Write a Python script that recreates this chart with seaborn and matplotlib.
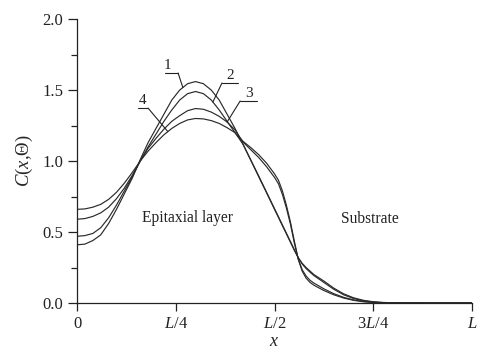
import numpy as np
import pandas as pd
import matplotlib
matplotlib.use('Agg')
import matplotlib.pyplot as plt
import seaborn as sns

# x in units of L
x = [0, .02, .04, .06, .08, .10, .12, .14, .16, .18, .20, .22, .24, .26, .28, .30,
     .32, .34, .36, .38, .40, .42, .44, .46, .48, .50, .51, .52, .53, .54, .55, .56,
     .57, .58, .59, .60, .625, .65, .675, .70, .725, .75, .775, .80, .90, 1.0]

c1 = [0.41, 0.415, 0.44, 0.48, 0.56, 0.66, 0.77, 0.88, 1.01, 1.13, 1.23, 1.33, 1.43,
      1.50, 1.545, 1.56, 1.545, 1.50, 1.43, 1.33, 1.23, 1.12, 1.005, 0.89, 0.776, 0.66,
      0.603, 0.545, 0.488, 0.43, 0.372, 0.32, 0.28, 0.25, 0.225, 0.20, 0.155, 0.105,
      0.065, 0.037, 0.019, 0.009, 0.004, 0.002, 0, 0]
c2 = [0.47, 0.475, 0.49, 0.53, 0.60, 0.69, 0.79, 0.89, 1.00, 1.10, 1.19, 1.28, 1.36,
      1.43, 1.475, 1.49, 1.475, 1.43, 1.36, 1.28, 1.20, 1.12, 1.008, 0.895, 0.78, 0.665,
      0.608, 0.55, 0.493, 0.435, 0.377, 0.32, 0.275, 0.243, 0.217, 0.193, 0.145, 0.097,
      0.058, 0.032, 0.016, 0.007, 0.003, 0.001, 0, 0]
c3 = [0.59, 0.595, 0.61, 0.635, 0.675, 0.735, 0.81, 0.90, 1.00, 1.09, 1.16, 1.225, 1.28,
      1.32, 1.355, 1.37, 1.365, 1.345, 1.315, 1.275, 1.22, 1.135, 1.08, 1.025, 0.96, 0.885,
      0.84, 0.765, 0.67, 0.56, 0.425, 0.31, 0.235, 0.19, 0.16, 0.14, 0.10, 0.066,
      0.04, 0.022, 0.011, 0.005, 0.002, 0, 0, 0]
c4 = [0.66, 0.663, 0.675, 0.695, 0.73, 0.78, 0.845, 0.92, 1.00, 1.07, 1.13, 1.185, 1.23,
      1.265, 1.29, 1.30, 1.297, 1.285, 1.265, 1.235, 1.20, 1.14, 1.095, 1.045, 0.985, 0.91,
      0.865, 0.79, 0.69, 0.575, 0.44, 0.31, 0.225, 0.175, 0.145, 0.125, 0.088, 0.058,
      0.035, 0.019, 0.009, 0.004, 0.001, 0, 0, 0]

curves = {'1': c1, '2': c2, '3': c3, '4': c4}

# label text pos, underline x-range/y, leader end x
labels = {
    '1': dict(tx=0.230, ty=1.67, ux=(0.223, 0.256), uy=1.62, lx=0.268, side='right'),
    '2': dict(tx=0.388, ty=1.605, ux=(0.367, 0.408), uy=1.55, lx=0.344, side='left'),
    '3': dict(tx=0.435, ty=1.475, ux=(0.413, 0.456), uy=1.423, lx=0.380, side='left'),
    '4': dict(tx=0.167, ty=1.425, ux=(0.154, 0.180), uy=1.373, lx=0.230, side='right'),
}

df = pd.concat([pd.DataFrame({'x': x, 'C': v, 'curve': k}) for k, v in curves.items()])

sns.set_theme(style='ticks')
plt.rcParams['font.family'] = ['Liberation Serif', 'DejaVu Serif']
plt.rcParams['mathtext.fontset'] = 'custom'
plt.rcParams['mathtext.it'] = 'Liberation Serif:italic'
plt.rcParams['mathtext.rm'] = 'Liberation Serif'

fig = plt.figure(figsize=(5, 3.54), dpi=100)
ax = fig.add_axes([0.154, 0.144, 0.79, 0.802])

sns.lineplot(data=df, x='x', y='C', hue='curve', palette=['#2a2a2a'] * 4,
             estimator=None, legend=False, lw=0.85, ax=ax)

for k, d in labels.items():
    ax.text(d['tx'], d['ty'], k, ha='center', va='center', fontsize=11, color='#222')
    ly = np.interp(d['lx'], x, curves[k])
    start = d['ux'][1] if d['side'] == 'right' else d['ux'][0]
    ax.plot([d['ux'][0], d['ux'][1]], [d['uy'], d['uy']], color='#222', lw=0.8)
    ax.plot([start, d['lx']], [d['uy'], ly], color='#222', lw=0.8)

ax.text(0.279, 0.60, 'Epitaxial layer', ha='center', va='center', fontsize=11.2, color='#222')
ax.text(0.742, 0.59, 'Substrate', ha='center', va='center', fontsize=11.2, color='#222')

ax.set_xlim(0, 1)
ax.set_ylim(0, 2.0)
ax.set_xticks([0, 0.25, 0.5, 0.75, 1.0])
ax.set_xticklabels(['0', '$L$/4', '$L$/2', '3$L$/4', '$L$'])
ax.set_yticks([0, 0.5, 1.0, 1.5, 2.0])
ax.set_yticklabels(['0.0', '0.5', '1.0', '1.5', '2.0'])
ax.set_yticks([0.25, 0.75, 1.25, 1.75], minor=True)
ax.tick_params(axis='x', direction='out', length=6, width=0.9, pad=3, labelsize=12, colors='#222')
ax.tick_params(axis='y', which='major', direction='out', length=6.5, width=0.9, pad=3.5,
               labelsize=12, colors='#222')
ax.tick_params(axis='y', which='minor', direction='out', length=4, width=0.9, colors='#222')
sns.despine(ax=ax)
for s in ['left', 'bottom']:
    ax.spines[s].set_linewidth(0.9)
    ax.spines[s].set_color('#222')

ax.set_xlabel('$x$', fontsize=13, labelpad=1)
ax.set_ylabel('$C$($x$,Θ)', fontsize=13.5, labelpad=5)

fig.savefig('out.png', dpi=100)
